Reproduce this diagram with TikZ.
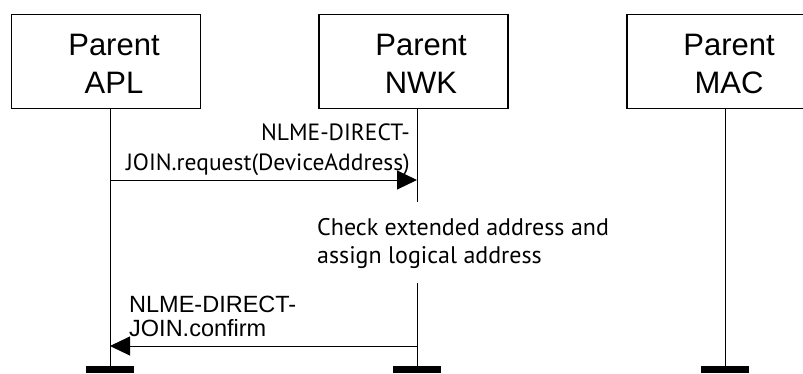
\documentclass[tikz,border=0pt]{standalone}
\usepackage{fontspec}
\setmainfont{Liberation Sans}
\newfontfamily\notefont{PT Sans}
\usetikzlibrary{arrows.meta}
\begin{document}
\begin{tikzpicture}[x=1pt,y=-1pt,
  layer/.style={draw,line width=1.2pt,minimum width=189pt,minimum height=94pt,inner sep=0pt},
  layername/.style={anchor=base,align=center,inner sep=0pt,font=\fontsize{31}{38}\selectfont},
  lifeline/.style={line width=1pt},
  msg/.style={line width=1pt,-{Triangle[length=20pt,width=19pt]}},
  note/.style={inner sep=0pt,font=\notefont\fontsize{23.5}{30}\selectfont},
  stopbar/.style={line width=7pt}]
  \useasboundingbox (0,0) rectangle (803,373);
  \clip (0,0) rectangle (803,373);
  % the three layers
  \node[layer] (apl) at (106,61.5) {};
  \node[layer] (nwk) at (413.5,61.5) {};
  \node[layer] (mac) at (721.5,61.5) {};
  \node[layername] (aplname) at (114,93) {Parent\\APL};
  \node[layername] (nwkname) at (421,93) {Parent\\NWK};
  \node[layername] (macname) at (729,93) {Parent\\MAC};
  % lifelines
  \coordinate (aplEnd) at (110,366);
  \coordinate (nwkEnd) at (417,366);
  \coordinate (macEnd) at (725,366);
  \coordinate (nwkStop) at (417,202);
  \coordinate (nwkGo) at (417,283);
  \draw[lifeline] (apl.south -| aplEnd) -- (aplEnd);
  \draw[lifeline] (nwk.south -| nwkEnd) -- (nwkStop);
  \draw[lifeline] (nwkGo) -- (nwkEnd);
  \draw[lifeline] (mac.south -| macEnd) -- (macEnd);
  \foreach \e in {aplEnd,nwkEnd,macEnd}
    \draw[stopbar] ([xshift=-24pt,yshift=-3.5pt]\e) -- ([xshift=24pt,yshift=-3.5pt]\e);
  % request
  \coordinate (reqA) at (110,180);
  \coordinate (reqB) at (417,180);
  \draw[msg] (reqA) -- (reqB);
  \node[note,anchor=base east,align=right] (reqtext) at (410,170)
    {NLME-DIRECT-\\JOIN.request(DeviceAddress)};
  % check in the NWK
  \node[note,anchor=base west,align=left,font=\notefont\fontsize{24}{28}\selectfont] (check) at (317,263)
    {Check extended address and\\assign logical address};
  % confirm
  \coordinate (cnfA) at (417,346);
  \coordinate (cnfB) at (110,346);
  \draw[msg] (cnfA) -- (cnfB);
  \node[note,anchor=base west,align=left,font=\fontsize{23.5}{24}\selectfont] (cnftext) at (129,336)
    {NLME-DIRECT-\\JOIN.confirm};
\end{tikzpicture}
\end{document}
